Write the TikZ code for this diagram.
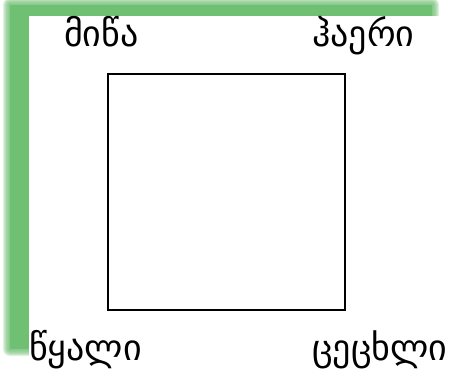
\documentclass[tikz,border=0pt]{standalone}
\usepackage{fontspec}
\newfontfamily\geofont[Script=Georgian]{DejaVu Sans}
\definecolor{leafgreen}{RGB}{112,192,116}

\begin{document}
\begin{tikzpicture}[x=1pt, y=-1pt]

  % Styles
  \tikzset{
    element/.style={font=\geofont\fontsize{36}{36}\selectfont, inner sep=0pt, anchor=base west},
    frame/.style={draw, line width=1.3pt, rectangle, minimum width=237pt, minimum height=236pt, inner sep=0pt}
  }

  \useasboundingbox (0,0) rectangle (452,372);

  % Green shadow behind the page
  \foreach \g in {7,6,5,4,3,2,1,0}
    \fill[leafgreen, opacity=0.22, rounded corners=\g pt] (10-\g,5-\g) rectangle (432+\g,349+\g);
  \fill[leafgreen] (10,5) rectangle (432,349);
  \fill[white] (29,16) rectangle (460,380);

  % Square
  \node[frame] (box) at (226.5,192) {};

  % Corner labels
  \node[element] (earth) at (64,46) {მიწა};
  \node[element] (air) at (312,46) {ჰაერი};
  \node[element] (water) at (29,360) {წყალი};
  \node[element] (fire) at (312,360) {ცეცხლი};

\end{tikzpicture}
\end{document}
